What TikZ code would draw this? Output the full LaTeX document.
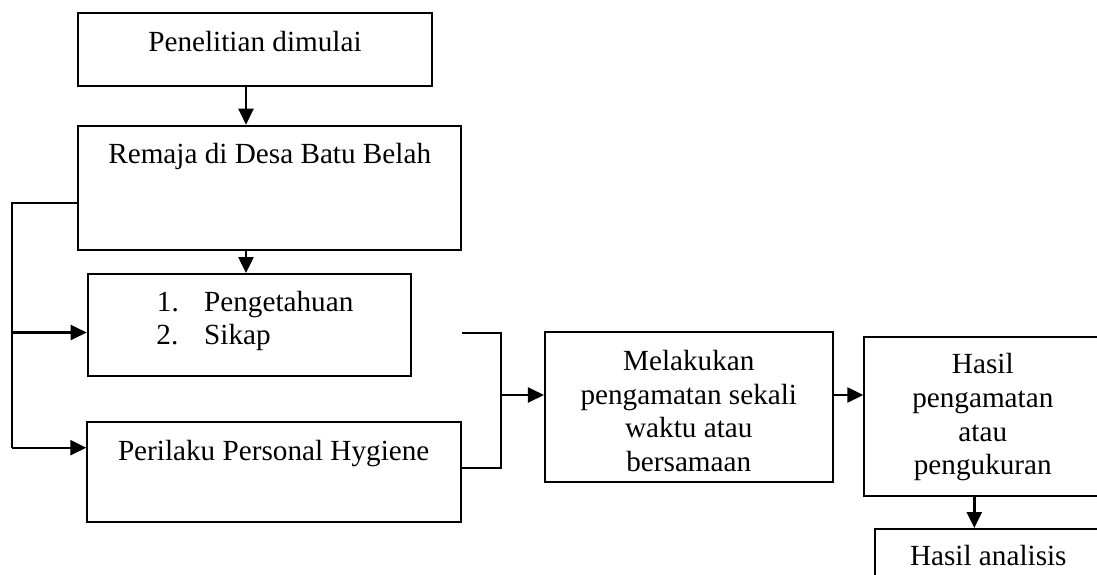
\documentclass[tikz,border=0pt]{standalone}
\usepackage{fontspec}
\setmainfont{Liberation Serif}
\usetikzlibrary{arrows.meta}

\tikzset{
    kotak/.style={draw, line width=2pt, inner sep=0pt},
    teks/.style={inner sep=0pt, font=\fontsize{29.2}{33.6}\selectfont},
    garis/.style={line width=2pt},
    panah/.style={line width=2.4pt, -{Triangle[length=16pt,width=15pt]}}
}

\begin{document}
\begin{tikzpicture}[x=1pt, y=-1pt]
        \useasboundingbox (0,0) rectangle (1097,575);
        \coordinate (sumbu) at (246,0);
        \coordinate (kiri) at (11.7,202.7);
        \coordinate (kiri1) at (11.7,332.5);
        \coordinate (kiri2) at (11.7,447.7);
        \coordinate (kanan1) at (501,332.7);
        \coordinate (kanan2) at (501,467.7);
        \coordinate (kanan) at (501,395);
        \coordinate (bawah) at (974.3,0);
        \node[kotak, minimum width=353.4pt, minimum height=72.7pt] (mulai) at (255,49.7) {};
        \node[teks, anchor=base] (tmulai) at (255,51.7) {Penelitian dimulai};
        \node[kotak, minimum width=382.7pt, minimum height=124.6pt] (remaja) at (269.7,188) {};
        \node[teks, anchor=base] (tremaja) at (269.7,163.3) {Remaja di Desa Batu Belah};
        \node[kotak, minimum width=323pt, minimum height=101.7pt] (var) at (249.2,324.9) {};
        \node[teks, anchor=base west] (tvar1) at (156.7,311.7) {\makebox[47.3pt][l]{1.}Pengetahuan};
        \node[teks, anchor=base west] (tvar2) at (156.2,344.3) {\makebox[47.8pt][l]{2.}Sikap};
        \node[kotak, minimum width=373.4pt, minimum height=100.6pt] (hygiene) at (274,472) {};
        \node[teks, anchor=base] (thygiene) at (273.7,460) {Perilaku Personal Hygiene};
        \node[kotak, minimum width=287.7pt, minimum height=150pt] (amati) at (688.8,407.3) {};
        \node[teks, anchor=north, align=center] (tamati) at (688.8,350.1) {Melakukan\\pengamatan sekali\\waktu atau\\bersamaan};
        \node[kotak, minimum width=236.8pt, minimum height=158.7pt] (hasil) at (982.7,416.3) {};
        \node[teks, anchor=north, align=center] (thasil) at (982.8,353.4) {Hasil\\pengamatan\\atau\\pengukuran};
        \node[kotak, minimum width=226.6pt, minimum height=71pt] (analisis) at (988.3,564.5) {};
        \node[teks, anchor=base] (tanalisis) at (988.3,565) {Hasil analisis};
        \draw[panah] (mulai.south -| sumbu) -- (remaja.north -| sumbu);
        \draw[panah] (remaja.south -| sumbu) -- (var.north -| sumbu);
        \draw[garis] (remaja.west |- kiri) -- (kiri) -- (kiri2);
        \draw[panah] (kiri1) -- (kiri1 -| var.west);
        \draw[panah] (kiri2) -- (kiri2 -| hygiene.west);
        \draw[garis] (kanan1 -| hygiene.east) -- (kanan1) -- (kanan2) -- (kanan2 -| hygiene.east);
        \draw[panah] (kanan) -- (kanan -| amati.west);
        \draw[panah] (amati.east |- kanan) -- (kanan -| hasil.west);
        \draw[panah] (hasil.south -| bawah) -- (analisis.north -| bawah);
    \end{tikzpicture}
\end{document}
